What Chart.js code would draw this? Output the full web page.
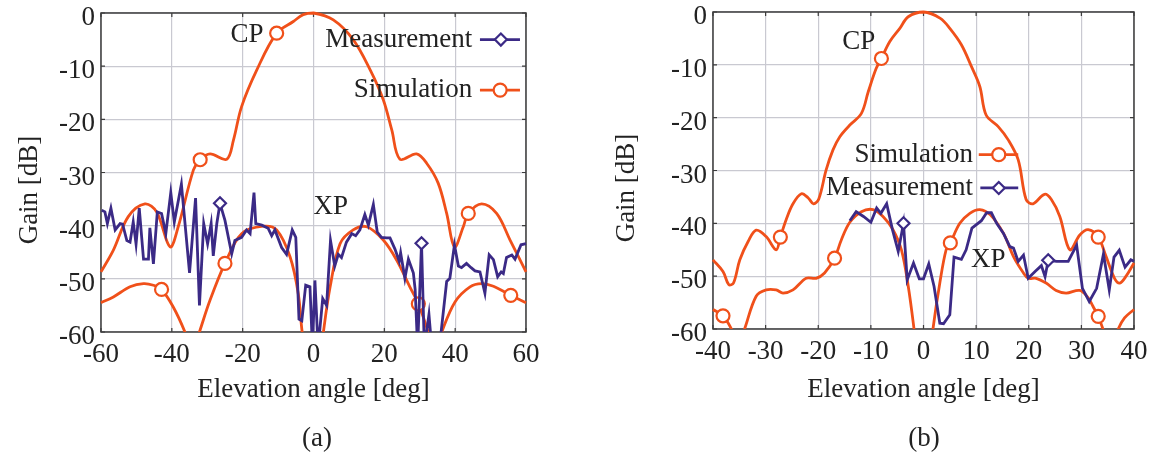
<!DOCTYPE html>
<html>
<head>
<meta charset="utf-8">
<script src="https://cdn.jsdelivr.net/npm/chart.js@4.4.1/dist/chart.umd.min.js"></script>
<style>
  html, body { margin: 0; padding: 0; background: #fff; }
  #wrap { position: relative; width: 1155px; height: 452px; overflow: hidden; }
  .panel { position: absolute; top: 0; height: 452px; }
  .cap { position: absolute; top: 422px; width: 80px; line-height: 30px; text-align: center;
         font: 27px 'Liberation Serif', serif; color: #222; }
</style>
</head>
<body>
<div id="wrap">
  <div class="panel" style="left:0;width:577px"><canvas id="chartA" width="577" height="452"></canvas></div>
  <div class="panel" style="left:577px;width:578px"><canvas id="chartB" width="578" height="452"></canvas></div>
  <div class="cap" style="left:277px">(a)</div>
  <div class="cap" style="left:884px">(b)</div>
</div>
<script>
// ---- panel (a) data ----
const aXTicks = [-60, -40, -20, 0, 20, 40, 60];
const aYTicks = [0, -10, -20, -30, -40, -50, -60];

const aCpSimX = [-60, -56.5, -52.3, -47.6, -44.3, -40.5, -38.2, -33.9, -32, -29.2, -24.5, -22.6, -20.3, -16, -10.4, -5.7, -2.9, 0, 5.6, 11.2, 16, 19.7, 22.1, 24.4, 29.1, 32, 35.2, 37.6, 39.8, 42.3, 43.7, 47.5, 51.7, 55.5, 60];
const aCpSimY = [-48.7, -44.6, -38.3, -35.9, -37.4, -44, -40.2, -29.5, -27.6, -26.5, -27.5, -23.9, -17.6, -10.7, -3.8, -1.6, -0.3, 0, -1.3, -5, -10.7, -16.3, -22, -27.5, -26.5, -28.3, -32, -37.7, -44, -40.2, -37.7, -35.9, -37.7, -42.7, -48.7];
const aCpSimMarks = [-32, -10.4, 43.7];

const aXpSimX = [-60, -56.5, -51.8, -48, -45.2, -42.9, -39.6, -36.3, -34.2, -32.2, -29.2, -25, -20.3, -14.2, -10.4, -6.6, -4.3, -3.2, 0, 2.8, 4.7, 7.5, 11.2, 15, 19.7, 23.5, 27.2, 29.6, 32.4, 34.3, 36.2, 40, 44.2, 47.5, 50.8, 55.7, 60];
const aXpSimY = [-54.5, -53.4, -51.5, -50.9, -51.2, -52, -55.3, -60, -64, -60, -54, -47.1, -41.5, -40.1, -40.8, -45.9, -52.8, -60, -75, -60, -51.5, -43.4, -40.8, -40.2, -42.7, -46.5, -51.5, -54.7, -60, -64, -60, -54.3, -51.5, -50.9, -51.4, -53.1, -54.5];
const aXpSimMarks = [-42.9, -25, 29.6, 55.7];

const aMeasX = [-59.8, -58.9, -58.2, -57.2, -56, -54.6, -53.9, -52.7, -51.8, -50.9, -50.1, -49.2, -48, -46.6, -46.2, -45.2, -44.1, -42.9, -41.7, -40.3, -39.3, -37.3, -35, -33.3, -32.2, -31, -29.9, -28.9, -28.3, -27.3, -26.4, -25, -23.1, -22.2, -20.3, -18.9, -17.9, -16.8, -16.3, -14.6, -12.8, -11.8, -10.9, -9, -7.6, -6, -5, -4.1, -3.3, -2.2, -1, -0.3, 0.4, 1.3, 2.6, 3.7, 4.8, 6, 7, 7.9, 9.3, 10.8, 11.9, 13.1, 14.5, 15.5, 16.9, 18, 19.2, 20.6, 21.6, 23, 24.2, 24.6, 25.8, 26.8, 28.2, 28.7, 29.4, 30.5, 31.3, 32.6, 33.4, 35.7, 37.6, 38.5, 39.8, 40.9, 41.8, 43.2, 44.5, 45.6, 47, 48.4, 49.6, 50.8, 52, 53, 53.6, 54.5, 56, 56.9, 58.6, 60];
const aMeasY = [-37.1, -37.4, -39.6, -36.7, -40.8, -39.6, -39.7, -42.8, -43.1, -39.3, -43.5, -36.7, -46.3, -46.3, -40.4, -47.2, -37.4, -37.7, -41.5, -33.8, -39.3, -32.2, -48.9, -34.8, -55, -39.6, -43.4, -39.6, -45.7, -39.6, -35.8, -39, -45.3, -42.8, -42.2, -40.8, -41.5, -33.8, -39.6, -39.9, -40.5, -41.9, -40.8, -44.1, -45.4, -40.8, -42.2, -57.6, -57.9, -51.2, -51.5, -63, -50.3, -63, -53.7, -55, -42.8, -47.6, -45.4, -46, -43.1, -41.5, -41.9, -40.8, -37.9, -39.9, -36, -41.2, -42.2, -42.3, -42.3, -44.4, -46.7, -45.1, -49.9, -46.3, -48.9, -52, -63, -43.3, -63, -56.7, -63, -62, -50.5, -49.9, -43.6, -47.6, -47.9, -47.1, -47.9, -48.5, -48.7, -52.7, -45.5, -46.4, -49.6, -48.7, -49, -46, -45.5, -46.3, -43.6, -43.4];
const aMeasMarks = [-26.4, 30.5];

// ---- panel (b) data ----
const bXTicks = [-40, -30, -20, -10, 0, 10, 20, 30, 40];
const bYTicks = [0, -10, -20, -30, -40, -50, -60];

const bCpSimX = [-40, -38.1, -37, -36.1, -34.9, -33.3, -31.8, -29.9, -28, -27.2, -26.1, -24.8, -23.2, -21.9, -20.9, -19.9, -18.5, -17.2, -15.9, -14, -11.8, -10.5, -9, -8, -6.4, -4.5, -2.9, 0, 3.2, 5, 7.2, 9.1, 10.7, 11.9, 14.2, 16.1, 18, 19.5, 20.8, 23, 24.3, 25.9, 27.8, 29.7, 31.3, 33.2, 34.7, 36.3, 37.3, 38.5, 40];
const bCpSimY = [-46.9, -49.1, -51.6, -51.3, -46.9, -43.4, -41.3, -42.5, -45, -42.6, -39.3, -36.3, -34.4, -35.2, -36.3, -35.4, -29.9, -26.1, -23.6, -21.4, -19.2, -15.1, -10.7, -8.8, -5.6, -3.1, -0.9, 0, -1.2, -3.1, -6.2, -10.3, -14.1, -19.5, -21.7, -24.2, -28, -35.5, -36.3, -34.5, -35.5, -38.7, -45, -42.2, -41.2, -42.6, -46.3, -50.4, -51.3, -50, -47.5];
const bCpSimMarks = [-27.2, -8, 33.2];

const bXpSimX = [-40, -38.1, -36.5, -35.2, -34, -31.8, -29.9, -28, -26.7, -24.8, -22.3, -20.4, -18.8, -16.9, -15.6, -14, -11.8, -9.6, -7.7, -5.8, -4.2, -2.9, -1.8, 0, 1.8, 3.1, 4.3, 5.1, 6.9, 8.8, 10.7, 12.7, 15.2, 17.1, 19, 19.9, 21.4, 23.3, 25.2, 27.1, 29.7, 31.3, 32.2, 33.2, 34.1, 35.5, 37, 38.2, 40];
const bXpSimY = [-56.3, -57.5, -60, -63, -60, -53.8, -52.6, -52.6, -53.2, -52.6, -50.4, -50.4, -49.4, -46.6, -43.1, -39.8, -37.8, -37.4, -38.7, -41.2, -45, -51.9, -60, -75, -60, -51.3, -45, -43.7, -40, -38.1, -37.4, -38.4, -41.9, -46.3, -49.4, -50.4, -50.4, -51.3, -52.7, -53.2, -52.7, -54.1, -55.7, -57.6, -60, -64, -60, -57.9, -56.3];
const bXpSimMarks = [-38.1, -16.9, 5.1, 33.2];

const bMeasX = [-14, -12.8, -11.4, -10, -8.9, -8.1, -7, -5.9, -4.8, -3.8, -3.1, -1.9, -0.8, 0, 1, 2, 3.1, 3.8, 5, 5.8, 7.2, 8.1, 9.2, 11, 12, 12.9, 13.9, 15.2, 16.4, 17.1, 18, 19, 19.9, 21.2, 22.4, 23.1, 23.7, 25.3, 27.5, 29.1, 30.2, 31.5, 32.9, 34.2, 35.3, 36.2, 37.2, 38.3, 39.4, 40];
const bMeasY = [-39.5, -37.8, -38.7, -39.8, -37.1, -38.1, -36.3, -41.2, -45.3, -40, -50.7, -47.5, -50.5, -50.5, -47.7, -51.9, -58.9, -59, -57.3, -46.4, -46.8, -45, -40.9, -39.5, -38, -38, -40, -41.9, -44.4, -44.7, -47.2, -46, -50.4, -49.1, -48, -50.1, -47, -47.2, -47.2, -44.1, -52.3, -54.8, -52.3, -45.8, -52.6, -46.4, -45.1, -48.3, -46.9, -47.2];
const bMeasMarks = [-3.8, 23.7];

// ---- styling ----
const ORANGE = '#f0501a';
const PURPLE = '#3b2a86';
const GRID = '#c9c9d1';
const TEXT = '#222';
const LINE_W = 2.8;
const FONT = { family: "'Liberation Serif', 'Times New Roman', serif", size: 27 };
const FONT_STR = "27px 'Liberation Serif', 'Times New Roman', serif";

function series(xs, ys, marks, color, style, tension) {
    return {
        data: xs.map((x, i) => ({ x: x, y: ys[i] })),
        borderColor: color,
        borderWidth: LINE_W,
        tension: tension,
        pointStyle: style,
        pointRadius: ctx => marks.includes(xs[ctx.dataIndex]) ? (style === 'circle' ? 6.5 : 6) : 0,
        pointHoverRadius: 0,
        pointBorderColor: color,
        pointBackgroundColor: '#fff',
        pointBorderWidth: 2.2,
        clip: { left: 2, right: 2, top: 2, bottom: 0 }
    };
}

function drawMarker(ctx, style, x, y, color) {
    ctx.save();
    ctx.strokeStyle = color;
    ctx.fillStyle = '#fff';
    ctx.lineWidth = 2.2;
    ctx.beginPath();
    if (style === 'circle') {
        ctx.arc(x, y, 6.5, 0, Math.PI * 2);
    } else {
        ctx.moveTo(x, y - 6); ctx.lineTo(x + 6, y); ctx.lineTo(x, y + 6); ctx.lineTo(x - 6, y); ctx.closePath();
    }
    ctx.fill();
    ctx.stroke();
    ctx.restore();
}

// frame + annotations, positions given in data units
const decor = {
    id: 'decor',
    beforeDatasetsDraw(chart) {
        const { ctx, chartArea: a } = chart;
        ctx.save();
        ctx.strokeStyle = '#3c3c3c';
        ctx.lineWidth = 1.5;
        ctx.strokeRect(a.left, a.top, a.right - a.left, a.bottom - a.top);
        ctx.lineWidth = 1.2;
        const xs = chart.scales.x, ys = chart.scales.y;
        ctx.beginPath();
        xs.ticks.forEach(t => {
            const p = xs.getPixelForValue(t.value);
            ctx.moveTo(p, a.bottom); ctx.lineTo(p, a.bottom - 4);
            ctx.moveTo(p, a.top); ctx.lineTo(p, a.top + 4);
        });
        ys.ticks.forEach(t => {
            const p = ys.getPixelForValue(t.value);
            ctx.moveTo(a.left, p); ctx.lineTo(a.left + 4, p);
            ctx.moveTo(a.right, p); ctx.lineTo(a.right - 4, p);
        });
        ctx.stroke();
        ctx.restore();
    },
    afterDatasetsDraw(chart, args, opts) {
        const { ctx } = chart;
        const X = v => chart.scales.x.getPixelForValue(v);
        const Y = v => chart.scales.y.getPixelForValue(v);
        ctx.save();
        ctx.font = FONT_STR;
        ctx.fillStyle = TEXT;
        ctx.textBaseline = 'middle';
        (opts.labels || []).forEach(l => {
            ctx.textAlign = 'center';
            ctx.fillText(l.text, X(l.x), Y(l.y));
        });
        (opts.keys || []).forEach(k => {
            ctx.textAlign = 'right';
            ctx.fillStyle = TEXT;
            ctx.fillText(k.text, X(k.x), Y(k.y));
            ctx.strokeStyle = k.color;
            ctx.lineWidth = LINE_W;
            ctx.beginPath();
            ctx.moveTo(X(k.x1), Y(k.y));
            ctx.lineTo(X(k.x2), Y(k.y));
            ctx.stroke();
            drawMarker(ctx, k.style, X(k.xm), Y(k.y), k.color);
        });
        // y axis title, a little below the plot centre as in the original
        const t = opts.yTitle;
        ctx.translate(t.x, t.y);
        ctx.rotate(-Math.PI / 2);
        ctx.textAlign = 'center';
        ctx.fillStyle = TEXT;
        ctx.fillText(t.text, 0, 0);
        ctx.restore();
    }
};

function makeChart(id, cfg) {
    return new Chart(document.getElementById(id), {
        type: 'line',
        data: { datasets: cfg.datasets },
        plugins: [decor],
        options: {
            responsive: false,
            animation: false,
            devicePixelRatio: 1,
            layout: { padding: { left: 0, top: cfg.top, right: cfg.right, bottom: 0 } },
            plugins: {
                legend: { display: false },
                tooltip: { enabled: false },
                decor: { labels: cfg.labels, keys: cfg.keys, yTitle: cfg.yTitle }
            },
            scales: {
                x: {
                    type: 'linear',
                    min: cfg.xTicks[0],
                    max: cfg.xTicks[cfg.xTicks.length - 1],
                    afterBuildTicks: s => { s.ticks = cfg.xTicks.map(v => ({ value: v })); },
                    afterFit: s => { s.height = cfg.xHeight; s.paddingLeft = 0; s.paddingRight = 0; },
                    grid: { color: GRID, lineWidth: 1.2, drawTicks: false },
                    border: { display: false },
                    ticks: { font: FONT, color: TEXT, padding: 7, maxRotation: 0, autoSkip: false },
                    title: { display: true, text: 'Elevation angle [deg]', font: FONT, color: TEXT, padding: { top: 0, bottom: 46 } }
                },
                y: {
                    type: 'linear',
                    min: -60,
                    max: 0,
                    afterBuildTicks: s => { s.ticks = cfg.yTicks.map(v => ({ value: v })); },
                    afterFit: s => { s.width = cfg.yWidth; s.paddingTop = 0; s.paddingBottom = 0; },
                    grid: { color: GRID, lineWidth: 1.2, drawTicks: false },
                    border: { display: false },
                    ticks: { font: FONT, color: TEXT, padding: 6, labelOffset: 5 }
                }
            }
        }
    });
}

const chartA = makeChart('chartA', {
    xTicks: aXTicks, yTicks: aYTicks,
    top: 13, right: 51, xHeight: 120, yWidth: 101,
    yTitle: { text: 'Gain [dB]', x: 30, y: 190 },
    datasets: [
        series(aMeasX, aMeasY, aMeasMarks, PURPLE, 'rectRot', 0),
        series(aCpSimX, aCpSimY, aCpSimMarks, ORANGE, 'circle', 0.35),
        series(aXpSimX, aXpSimY, aXpSimMarks, ORANGE, 'circle', 0.35)
    ],
    labels: [
        { text: 'CP', x: -18.8, y: -4.1 },
        { text: 'XP', x: 4.9, y: -36.4 }
    ],
    keys: [
        { text: 'Measurement', x: 44.8, y: -5.0, x1: 47, x2: 58.3, xm: 52.9, color: PURPLE, style: 'rectRot' },
        { text: 'Simulation', x: 44.8, y: -14.5, x1: 47, x2: 58.3, xm: 52.7, color: ORANGE, style: 'circle' }
    ]
});

const chartB = makeChart('chartB', {
    xTicks: bXTicks, yTicks: bYTicks,
    top: 12, right: 21, xHeight: 123, yWidth: 136,
    yTitle: { text: 'Gain [dB]', x: 50, y: 188 },
    datasets: [
        series(bMeasX, bMeasY, bMeasMarks, PURPLE, 'rectRot', 0),
        series(bCpSimX, bCpSimY, bCpSimMarks, ORANGE, 'circle', 0.35),
        series(bXpSimX, bXpSimY, bXpSimMarks, ORANGE, 'circle', 0.35)
    ],
    labels: [
        { text: 'CP', x: -12.3, y: -5.7 },
        { text: 'XP', x: 12.3, y: -46.9 }
    ],
    keys: [
        { text: 'Simulation', x: 9.4, y: -27.0, x1: 10.5, x2: 18.0, xm: 14.3, color: ORANGE, style: 'circle' },
        { text: 'Measurement', x: 9.4, y: -33.3, x1: 10.8, x2: 18.0, xm: 14.3, color: PURPLE, style: 'rectRot' }
    ]
});
</script>
</body>
</html>
